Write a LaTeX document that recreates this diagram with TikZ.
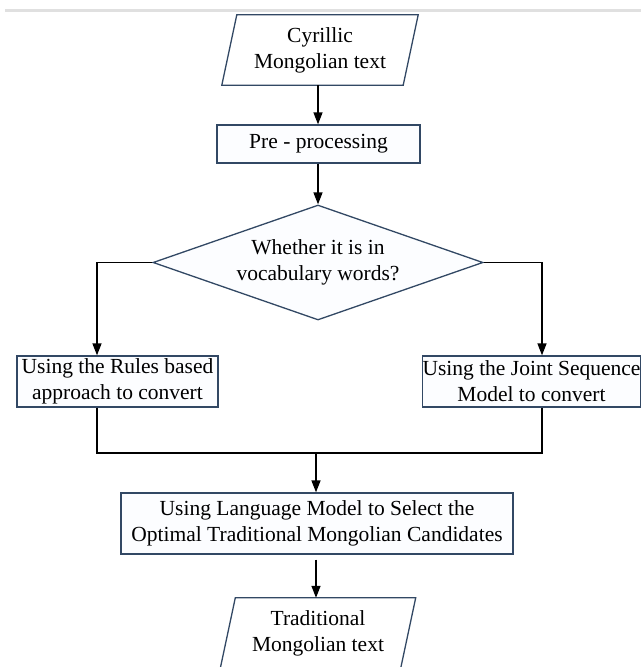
\documentclass[tikz,border=0pt]{standalone}
\usepackage{fontspec}
\setmainfont{Liberation Serif}
\usetikzlibrary{shapes.geometric,arrows.meta,calc}
\definecolor{boxc}{RGB}{50,72,100}
\definecolor{boxfill}{RGB}{252,253,255}
\definecolor{topline}{RGB}{224,224,224}
\begin{document}
\begin{tikzpicture}[x=1pt,y=-1pt,
  font=\fontsize{21.5}{26}\selectfont,
  box/.style={draw=boxc, line width=1.3pt, fill=boxfill, align=center, inner sep=0pt},
  txt/.style={align=center, inner sep=0pt},
  pbox/.style={draw=boxc, line width=1.3pt},
  dia/.style={diamond, draw=boxc, line width=1.3pt, fill=boxfill, align=center, inner sep=0pt,
              aspect=2.87, minimum width=330pt, minimum height=115pt},
  conn/.style={line width=1.4pt, black},
  arr/.style={conn, -{Triangle[length=12pt,width=9pt]}}]
\useasboundingbox (0,0) rectangle (641,667);
\draw[topline, line width=3pt] (5,10.5) -- (641,10.5);

\node[txt, minimum width=181pt, minimum height=70pt] (src) at (320,50) {Cyrillic\\Mongolian text};
\draw[pbox] ($(src.north west)+(7.5,0)$) -- ($(src.north east)+(7.5,0)$)
  -- ($(src.south east)+(-7.5,0)$) -- ($(src.south west)+(-7.5,0)$) -- cycle;

\node[box, minimum width=203pt, minimum height=38pt] (pre) at (318.5,144) {Pre - processing};
\node[dia] (d) at (318,262.5) {Whether it is in\\vocabulary words?};
\node[box, minimum width=201pt, minimum height=51pt] (lb) at (117.5,381.5) {Using the Rules based\\approach to convert};
\node[box, minimum width=218pt, minimum height=51pt] (rb) at (531.5,381.5) {Using the Joint Sequence\\Model to convert};
\node[box, minimum width=392pt, minimum height=61pt] (lm) at (317,523.5) {Using Language Model to Select the\\Optimal Traditional Mongolian Candidates};

\node[txt, minimum width=180pt, minimum height=70pt] (dst) at (318,633) {Traditional\\Mongolian text};
\draw[pbox] ($(dst.north west)+(7.5,0)$) -- ($(dst.north east)+(7.5,0)$)
  -- ($(dst.south east)+(-7.5,0)$) -- ($(dst.south west)+(-7.5,0)$) -- cycle;

\coordinate (cx) at (318,0);
\coordinate (lx) at (97,0);
\coordinate (rx) at (542,0);
\coordinate (m) at (316,453);

\draw[arr] (src.south -| cx) -- (pre.north -| cx);
\draw[arr] (pre.south -| cx) -- (d.north);
\draw[arr] (d.west) -| (lb.north -| lx);
\draw[arr] (d.east) -| (rb.north -| rx);
\draw[conn] (lb.south -| lx) |- (m) -| (rb.south -| rx);
\draw[arr] (m) -- (lm.north -| m);
\draw[arr, shorten <=5pt] (lm.south -| m) -- (dst.north -| m);
\end{tikzpicture}
\end{document}
